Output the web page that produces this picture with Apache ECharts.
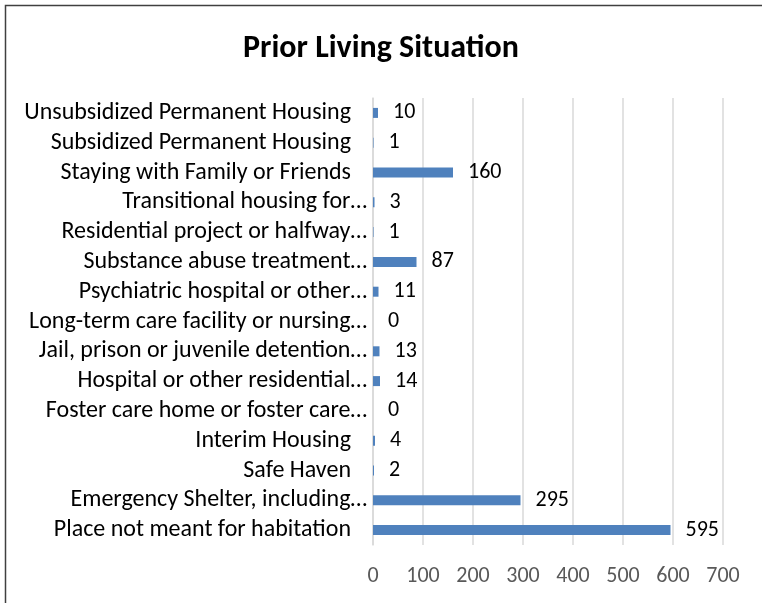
<!DOCTYPE html>
<html>
<head>
<meta charset="utf-8">
<script src="https://cdn.jsdelivr.net/npm/echarts@6/dist/echarts.min.js"></script>
<style>
  html, body { margin: 0; padding: 0; background: #fff; }
  #main { width: 762px; height: 603px; }
</style>
</head>
<body>
<div id="main"></div>
<script>
// categories, top to bottom as in the picture
const categories = [
  'Unsubsidized Permanent Housing',
  'Subsidized Permanent Housing',
  'Staying with Family or Friends',
  'Transitional housing for…',
  'Residential project or halfway…',
  'Substance abuse treatment…',
  'Psychiatric hospital or other…',
  'Long-term care facility or nursing…',
  'Jail, prison or juvenile detention…',
  'Hospital or other residential…',
  'Foster care home or foster care…',
  'Interim Housing',
  'Safe Haven',
  'Emergency Shelter, including…',
  'Place not meant for habitation'
];
const counts = [10, 1, 160, 3, 1, 87, 11, 0, 13, 14, 0, 4, 2, 295, 595];
const xTicks = [0, 100, 200, 300, 400, 500, 600, 700];

const font = 'Calibri, Carlito, "Noto Sans", sans-serif';

const chart = echarts.init(document.getElementById('main'));
chart.setOption({
  animation: false,
  title: {
    text: 'Prior Living Situation',
    left: 'center',
    top: 28,
    textStyle: { fontFamily: font, fontSize: 32, fontWeight: 'bold', color: '#000' }
  },
  graphic: [{
    type: 'rect',
    shape: { x: 5.5, y: 5.5, width: 800, height: 700 },
    style: { fill: 'none', stroke: '#404040', lineWidth: 1.5 }
  }],
  grid: { left: 373, right: 39, top: 98, bottom: 58 },
  xAxis: {
    type: 'value',
    min: xTicks[0],
    max: xTicks[xTicks.length - 1],
    interval: 100,
    axisLine: { show: false },
    axisTick: { show: false },
    axisLabel: { margin: 20, color: '#595959', fontSize: 22, fontFamily: font },
    splitLine: { lineStyle: { color: '#d9d9d9', width: 1.5 } }
  },
  yAxis: {
    type: 'category',
    inverse: true,
    data: categories,
    axisLine: { lineStyle: { color: '#d9d9d9', width: 1.5 } },
    axisTick: { show: false },
    axisLabel: {
      interval: 0,
      margin: 6,
      color: '#000',
      fontSize: 24,
      fontFamily: font,
      // cut labels sit closer to the axis than whole ones
      formatter: v => v.endsWith('…') ? '{t|' + v + '}' : '{f|' + v + '}',
      rich: {
        t: { fontSize: 24, fontFamily: font, color: '#000' },
        f: { fontSize: 24, fontFamily: font, color: '#000', padding: [0, 16, 0, 0] }
      }
    }
  },
  series: [{
    type: 'bar',
    data: counts,
    barWidth: 10,
    itemStyle: { color: '#4f81bd' },
    label: {
      show: true,
      position: 'right',
      distance: 15,
      color: '#000',
      fontSize: 22,
      fontFamily: font
    }
  }]
});
</script>
</body>
</html>
